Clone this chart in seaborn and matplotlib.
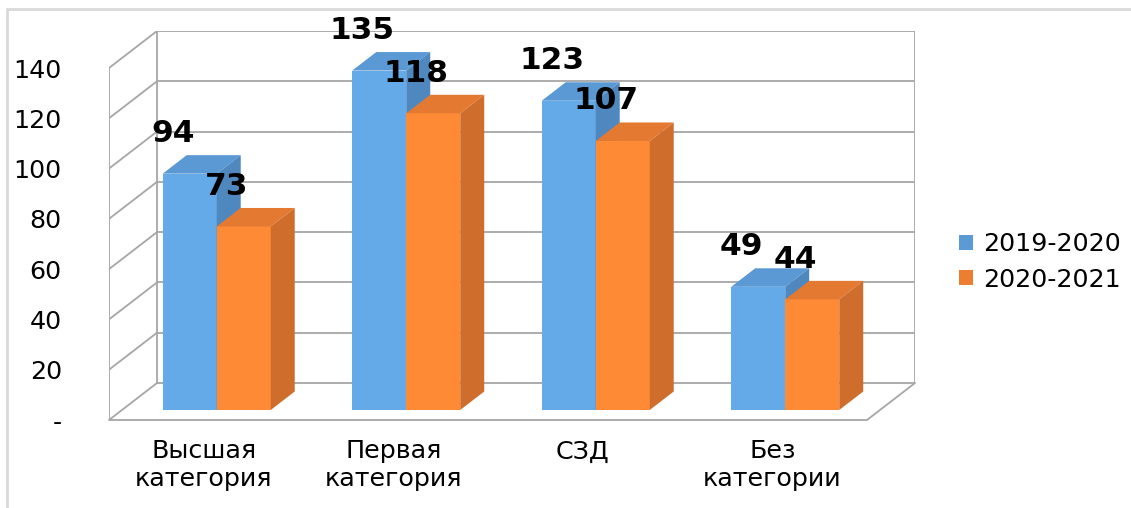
import pandas as pd
import seaborn as sns
import matplotlib.pyplot as plt
from matplotlib.patches import Polygon, Patch
from matplotlib.lines import Line2D

categories = ["Высшая\nкатегория", "Первая\nкатегория", "СЗД", "Без\nкатегории"]
seasons = ["2019-2020", "2020-2021"]
values_2019 = [94, 135, 123, 49]
values_2020 = [73, 118, 107, 44]
yticks = [0, 20, 40, 60, 80, 100, 120, 140]
ytick_labels = ["-", "20", "40", "60", "80", "100", "120", "140"]

df = pd.DataFrame({
    "category": categories * 2,
    "season": [seasons[0]] * 4 + [seasons[1]] * 4,
    "value": values_2019 + values_2020,
})

config = {
    'figsize': (11.31, 5.08),
    'dpi': 100,
    'front': ["#64A9E8", "#FE8A35"],
    'top': ["#5A99D4", "#E47A31"],
    'side': ["#4F87BF", "#CF6D2C"],
    'legend': ["#5B9BD5", "#ED7D31"],
    'grid': "#A6A6A6",
    'border': "#D9D9D9",
    'fontsize': 18.3,
    'label_fontsize': 22.5,
}
sns.set_style('white')
plt.rcParams['font.family'] = ['DejaVu Sans']
plt.rcParams['text.color'] = 'black'
plt.rcParams['xtick.color'] = 'black'
plt.rcParams['ytick.color'] = 'black'

W, H = 1131, 508
fig = plt.figure(figsize=config['figsize'], dpi=config['dpi'])
ax = fig.add_axes([109 / W, (H - 420) / H, (915 - 109) / W, (420 - 31) / H])

# oblique depth of the box (data units) and where the bars sit in it
DX = 48 / 189.5
DY = 37 / (352 / 140)
D0 = 10 / 37
BD = 0.5
ymax = yticks[-1]

sns.barplot(df, x="category", y="value", hue="season", order=categories, hue_order=seasons,
            palette=config['front'], saturation=1, width=0.57, legend=False, ax=ax)
ax.set_xlim(-0.5, 3.5 + DX)
ax.set_ylim(0, ymax + DY)

# walls, floor and gridlines
lw = 1.3
gc = config['grid']
for t in yticks:
    ax.plot([-0.5 + DX, 3.5 + DX], [t + DY, t + DY], color=gc, lw=lw, zorder=1)
    ax.plot([-0.5, -0.5 + DX], [t, t + DY], color=gc, lw=lw, zorder=1)
ax.plot([-0.5, -0.5], [0, ymax], color=gc, lw=lw, zorder=1)
ax.plot([-0.5 + DX, -0.5 + DX], [DY, ymax + DY], color=gc, lw=lw, zorder=1)
ax.plot([3.5 + DX, 3.5 + DX], [DY, ymax + DY], color=gc, lw=lw, zorder=1)
ax.plot([-0.5, 3.5, 3.5 + DX], [0, 0, DY], color=gc, lw=lw, zorder=1, clip_on=False)

# push bars into the box and give them top and side faces
for hi, container in enumerate(ax.containers):
    for p, v in zip(container.patches, container.datavalues):
        p.set_x(p.get_x() + D0 * DX)
        p.set_y(p.get_y() + D0 * DY)
        p.set_zorder(3 + hi)
        p.set_edgecolor('none')
        x0, y0, w, h = p.get_x(), p.get_y(), p.get_width(), p.get_height()
        dx, dy = BD * DX, BD * DY
        top = Polygon([(x0, y0 + h), (x0 + w, y0 + h), (x0 + w + dx, y0 + h + dy), (x0 + dx, y0 + h + dy)],
                      closed=True, facecolor=config['top'][hi], edgecolor='none', zorder=3 + hi)
        side = Polygon([(x0 + w, y0), (x0 + w + dx, y0 + dy), (x0 + w + dx, y0 + h + dy), (x0 + w, y0 + h)],
                       closed=True, facecolor=config['side'][hi], edgecolor='none', zorder=3 + hi)
        ax.add_patch(top)
        ax.add_patch(side)
        ax.annotate(f"{v:.0f}", (x0 + w / 2, y0 + h), xytext=(-17, 40), textcoords='offset pixels',
                    ha='center', va='center', fontsize=config['label_fontsize'], fontweight='bold',
                    color='black', zorder=10, annotation_clip=False)

for s in ax.spines.values():
    s.set_visible(False)
ax.set_yticks(yticks, labels=ytick_labels)
ax.set_xticks(range(len(categories)), labels=categories)
ax.tick_params(axis='y', length=0, pad=34, labelsize=config['fontsize'])
ax.tick_params(axis='x', length=0, pad=14, labelsize=config['fontsize'])
ax.set_xlabel('')
ax.set_ylabel('')

handles = [Patch(facecolor=c, edgecolor='none') for c in config['legend']]
fig.legend(handles, seasons, loc='center left', bbox_to_anchor=(936 / W, 1 - 262 / H),
           frameon=False, fontsize=config['fontsize'], handlelength=0.55, handleheight=0.55,
           handletextpad=0.4, labelspacing=0.45)

# outer chart border (only top and left visible)
fig.add_artist(Line2D([7 / W, 1], [1 - 9 / H, 1 - 9 / H], color=config['border'], lw=2))
fig.add_artist(Line2D([7 / W, 7 / W], [0, 1 - 9 / H], color=config['border'], lw=2))

fig.savefig('out.png', dpi=config['dpi'])
